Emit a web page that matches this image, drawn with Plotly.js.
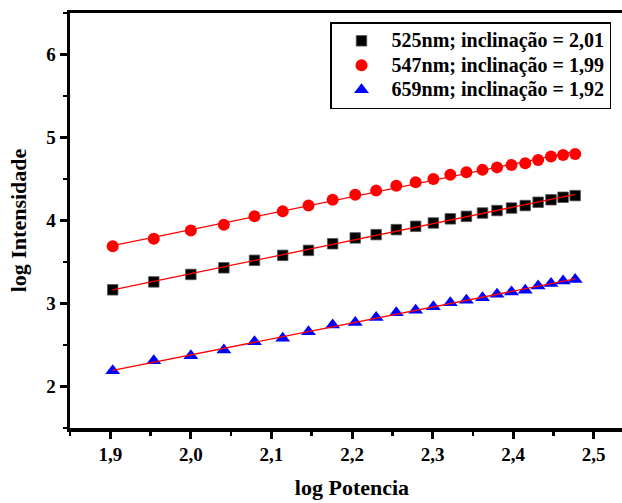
<!DOCTYPE html>
<html>
<head>
<meta charset="utf-8">
<script src="https://cdn.plot.ly/plotly-3.0.1.min.js"></script>
<style>
html,body{margin:0;padding:0;overflow:hidden;background:#fff;}
#chart{width:650px;height:503px;}
</style>
</head>
<body>
<div id="chart"></div>
<script>
// log Potencia (x)
const logPotencia = [1.903,1.954,2.000,2.041,2.079,2.114,2.146,2.176,2.204,2.230,2.255,2.279,2.301,2.322,2.342,2.362,2.380,2.398,2.415,2.431,2.447,2.462,2.477];
// log Intensidade series
const int525 = [3.165,3.26,3.35,3.43,3.52,3.58,3.64,3.72,3.79,3.83,3.89,3.93,3.97,4.02,4.05,4.09,4.12,4.15,4.18,4.22,4.25,4.28,4.30];
const int547 = [3.69,3.78,3.88,3.95,4.05,4.11,4.18,4.25,4.31,4.36,4.42,4.46,4.50,4.55,4.58,4.61,4.64,4.67,4.69,4.73,4.77,4.79,4.80];
const int659 = [2.19,2.31,2.37,2.44,2.54,2.58,2.66,2.74,2.77,2.83,2.89,2.92,2.96,3.01,3.04,3.07,3.11,3.14,3.16,3.21,3.24,3.27,3.29];
const seriesNames = ["525nm; inclinação = 2,01","547nm; inclinação = 1,99","659nm; inclinação = 1,92"];
const xTickVals = [1.9,2.0,2.1,2.2,2.3,2.4,2.5];
const xTickText = ["1,9","2,0","2,1","2,2","2,3","2,4","2,5"];
const yTickVals = [2,3,4,5,6];
const yTickText = ["2","3","4","5","6"];

function fit(x, y){
  const n = x.length;
  let sx=0, sy=0, sxx=0, sxy=0;
  for(let i=0;i<n;i++){sx+=x[i];sy+=y[i];sxx+=x[i]*x[i];sxy+=x[i]*y[i];}
  const b = (n*sxy - sx*sy)/(n*sxx - sx*sx);
  const a = (sy - b*sx)/n;
  return x.map(v => a + b*v);
}

const FAM = "'Liberation Serif'";
function f(size){ return {family:FAM, size:size, color:"#000", weight:700}; }
const big = s => '<span style="font-size:20px">' + s + '</span>';
const markerTraces = [
  {x:logPotencia, y:int525, name:big(seriesNames[0]), mode:"markers", type:"scatter",
   marker:{symbol:"square", size:10.5, color:"#000", line:{width:0.8, color:"#555"}}},
  {x:logPotencia, y:int547, name:big(seriesNames[1]), mode:"markers", type:"scatter",
   marker:{symbol:"circle", size:12, color:"#ff0000", line:{width:0}}},
  {x:logPotencia, y:int659, name:big(seriesNames[2]), mode:"markers", type:"scatter",
   marker:{symbol:"triangle-up", size:13, color:"#0000ff", line:{width:0}}}
];
const fitTraces = [int525,int547,int659].map(s => ({
  x:logPotencia, y:fit(logPotencia, s), mode:"lines", type:"scatter", showlegend:false,
  line:{color:"#ff0000", width:1.3}, hoverinfo:"skip"
}));

const layout = {
  width:650, height:503,
  margin:{l:70, r:16, t:13, b:75},
  paper_bgcolor:"#fff", plot_bgcolor:"#fff",
  font:f(19),
  showlegend:true,
  legend:{x:0.461, y:0.978, xanchor:"left", yanchor:"top",
    bgcolor:"#fff", bordercolor:"#000", borderwidth:1.5,
    font:f(16.5), itemwidth:50, tracegroupgap:0},
  xaxis:{range:[1.85,2.55], tickvals:xTickVals, ticktext:xTickText,
    showline:true, linewidth:3.5, linecolor:"#000", mirror:true,
    ticks:"outside", ticklen:7, tickwidth:3, tickcolor:"#000",
    showgrid:false, zeroline:false,
    tickfont:f(19),
    minor:{dtick:0.05, tick0:1.85, ticks:"outside", ticklen:4, tickwidth:2.5, tickcolor:"#000", showgrid:false},
    title:{text:"log Potencia", font:f(22), standoff:16}},
  yaxis:{range:[1.5,6.5], tickvals:yTickVals, ticktext:yTickText,
    showline:true, linewidth:3.5, linecolor:"#000", mirror:true,
    ticks:"outside", ticklen:7, tickwidth:3, tickcolor:"#000",
    showgrid:false, zeroline:false,
    tickfont:f(19),
    minor:{dtick:0.5, tick0:1.5, ticks:"outside", ticklen:4, tickwidth:2.5, tickcolor:"#000", showgrid:false},
    title:{text:"log Intensidade", font:f(22), standoff:14}}
};

Plotly.newPlot("chart", markerTraces.concat(fitTraces), layout, {displayModeBar:false, staticPlot:true});
</script>
</body>
</html>
